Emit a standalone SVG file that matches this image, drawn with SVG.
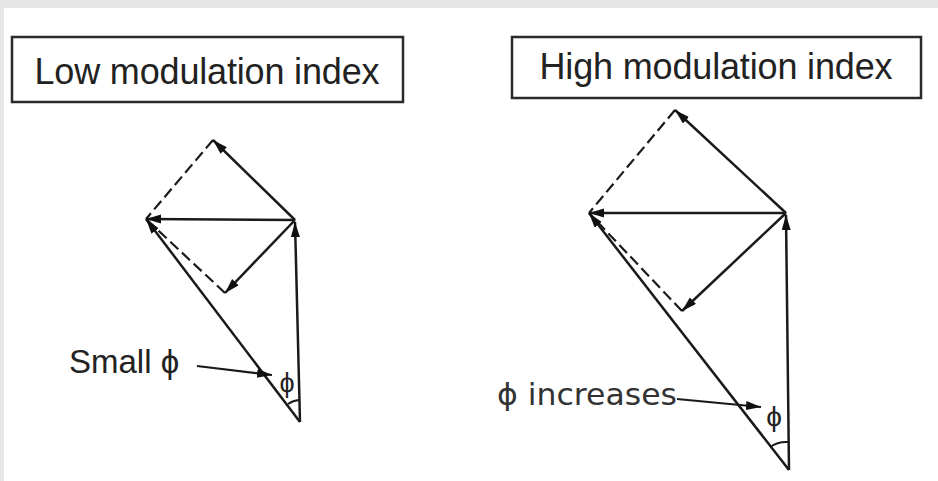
<svg xmlns="http://www.w3.org/2000/svg" width="938" height="481" viewBox="0 0 938 481">
  <style>
    .box{fill:#fff;stroke:#2a2a2a;stroke-width:2.5}
    .hdr{font-family:"Liberation Sans",Arial,sans-serif;font-size:36px;fill:#222}
    .lbl{font-family:"Liberation Sans",Arial,sans-serif;fill:#222}
    .lbl2{font-family:"DejaVu Sans","Liberation Sans",sans-serif;fill:#333}
    .v{stroke:#1a1a1a;stroke-width:2.5;fill:none;marker-end:url(#ah)}
    .d{stroke:#1a1a1a;stroke-width:2.2;fill:none;stroke-dasharray:11 5}
    .a{stroke:#1a1a1a;stroke-width:2;fill:none}
    .ld{stroke:#1a1a1a;stroke-width:2.2;fill:none;marker-end:url(#ah)}
  </style>
  <defs>
    <marker id="ah" markerUnits="userSpaceOnUse" markerWidth="16" markerHeight="10" refX="15" refY="4.5" orient="auto">
      <path d="M0,0 L15,4.5 L0,9 z" fill="#111"/>
    </marker>
  </defs>
  <rect x="0" y="0" width="938" height="481" fill="#fff"/>
  <rect x="0" y="0" width="938" height="8" fill="#e6e6e6"/>
  <rect x="0" y="0" width="4" height="481" fill="#e6e6e6"/>

  <g id="box-low">
    <rect class="box" x="12" y="37" width="391" height="65"/>
    <text class="hdr" x="207" y="84" text-anchor="middle" textLength="345">Low modulation index</text>
  </g>
  <g id="box-high">
    <rect class="box" x="512" y="37" width="409" height="61"/>
    <text class="hdr" x="716" y="79" text-anchor="middle" textLength="353">High modulation index</text>
  </g>

  <g id="connectors">
    <!-- low modulation phasor diagram -->
    <line class="d" x1="213" y1="140" x2="146" y2="219"/>
    <line class="d" x1="225" y1="293" x2="146" y2="219"/>
    <line class="v" x1="295" y1="220" x2="213" y2="140"/>
    <line class="v" x1="295" y1="220" x2="146" y2="219"/>
    <line class="v" x1="295" y1="220" x2="225" y2="293"/>
    <line class="v" x1="300" y1="422" x2="295" y2="222"/>
    <line class="v" x1="300" y1="422" x2="146" y2="219"/>
    <path class="a" d="M288,404 A22,22 0 0 1 299,400"/>
    <line class="ld" x1="197" y1="366" x2="272" y2="375"/>

    <!-- high modulation phasor diagram -->
    <line class="d" x1="675" y1="110" x2="589" y2="213"/>
    <line class="d" x1="682" y1="311" x2="589" y2="213"/>
    <line class="v" x1="786" y1="213" x2="675" y2="110"/>
    <line class="v" x1="786" y1="213" x2="589" y2="213"/>
    <line class="v" x1="786" y1="213" x2="682" y2="311"/>
    <line class="v" x1="789" y1="470" x2="786" y2="215"/>
    <line class="v" x1="789" y1="470" x2="589" y2="213"/>
    <path class="a" d="M770,447 A28,28 0 0 1 788,442"/>
    <line class="ld" x1="677" y1="399" x2="761" y2="407"/>
  </g>

  <g id="label-small">
    <text class="lbl" x="69" y="373" font-size="33">Small ϕ</text>
    <text class="lbl" x="287" y="392" font-size="27" text-anchor="middle">ϕ</text>
  </g>
  <g id="label-increases">
    <text class="lbl2" x="497" y="405" font-size="31" textLength="180" lengthAdjust="spacingAndGlyphs">ϕ increases</text>
    <text class="lbl" x="774" y="426" font-size="28" text-anchor="middle">ϕ</text>
  </g>
</svg>
